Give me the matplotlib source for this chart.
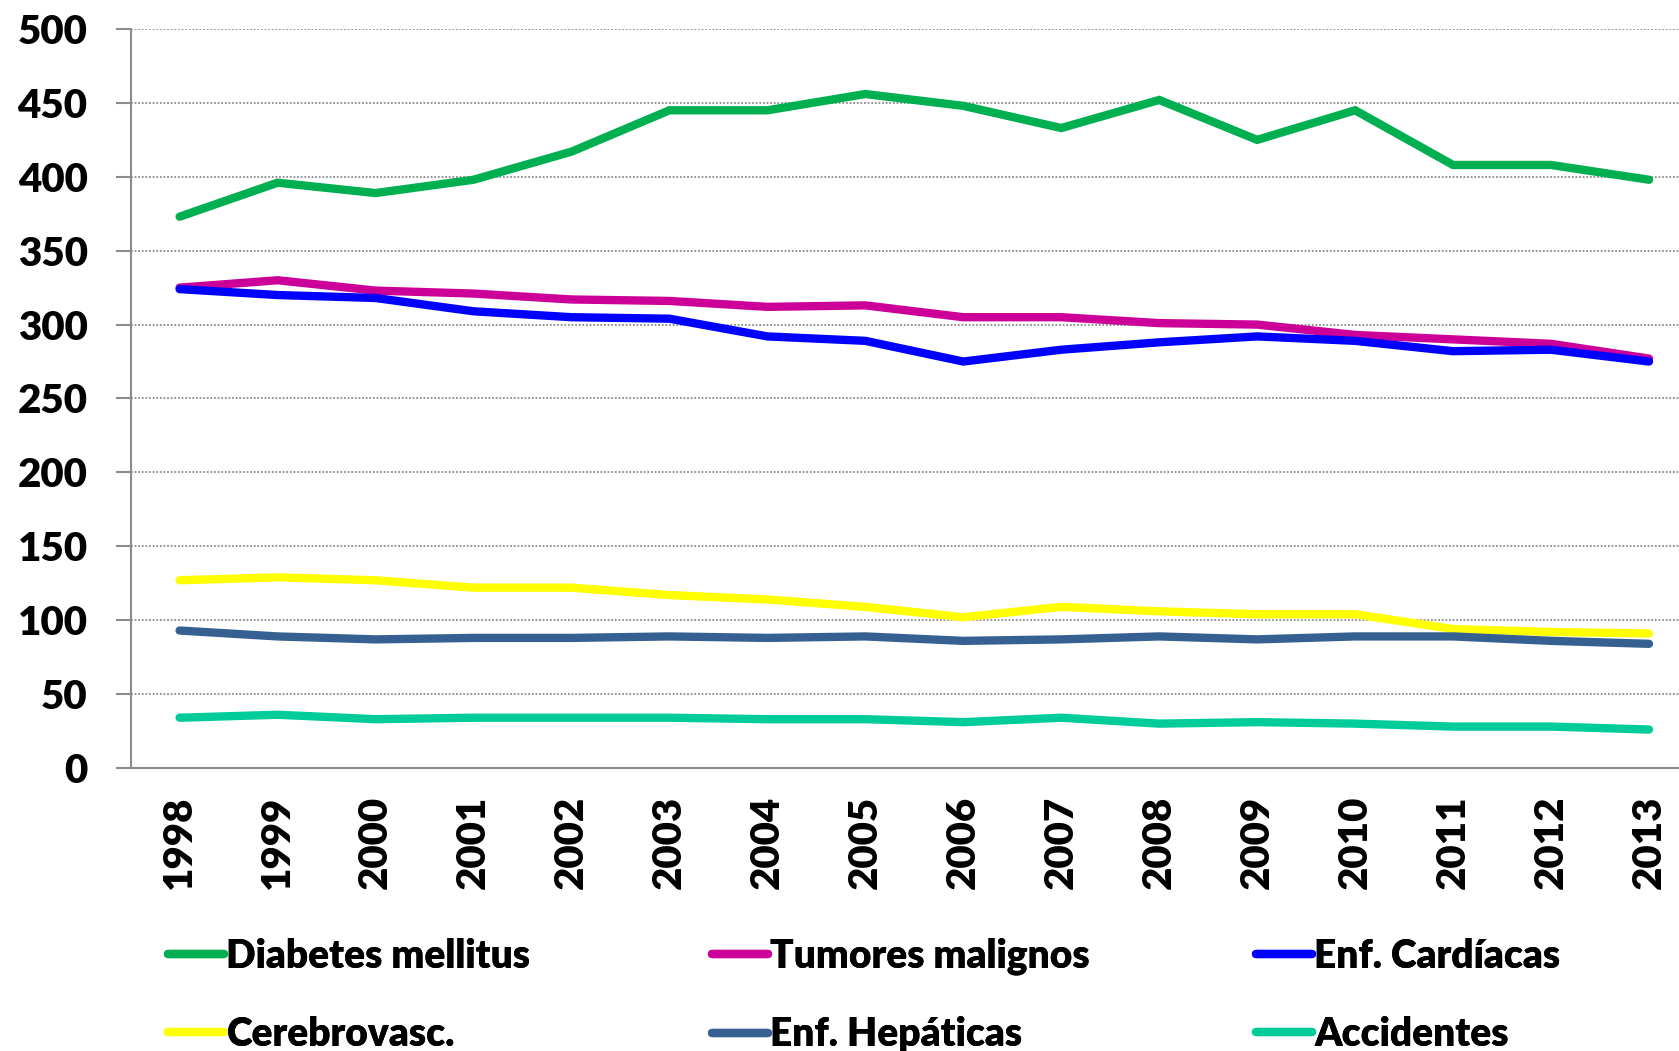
import matplotlib.pyplot as plt
import numpy as np

plt.rcParams['font.family'] = ['Lato', 'DejaVu Sans']
plt.rcParams['font.weight'] = 'heavy'

# Data
years = ['1998', '1999', '2000', '2001', '2002', '2003', '2004', '2005',
         '2006', '2007', '2008', '2009', '2010', '2011', '2012', '2013']
diabetes = [373, 396, 389, 398, 417, 445, 445, 456, 448, 433, 452, 425, 445, 408, 408, 398]
tumores = [325, 330, 323, 321, 317, 316, 312, 313, 305, 305, 301, 300, 293, 290, 287, 277]
cardiacas = [324, 320, 318, 309, 305, 304, 292, 289, 275, 283, 288, 292, 289, 282, 283, 275]
cerebro = [127, 129, 127, 122, 122, 117, 114, 109, 102, 109, 106, 104, 104, 94, 92, 91]
hepaticas = [93, 89, 87, 88, 88, 89, 88, 89, 86, 87, 89, 87, 89, 89, 86, 84]
accidentes = [34, 36, 33, 34, 34, 34, 33, 33, 31, 34, 30, 31, 30, 28, 28, 26]

series = [
    ('Diabetes mellitus', diabetes, '#00B050'),
    ('Tumores malignos', tumores, '#CC0099'),
    ('Enf. Cardíacas', cardiacas, '#0000FF'),
    ('Cerebrovasc.', cerebro, '#FFFF00'),
    ('Enf. Hepáticas', hepaticas, '#376092'),
    ('Accidentes', accidentes, '#00CC99'),
]

fig = plt.figure(figsize=(16.79, 10.51), dpi=100)
ax = fig.add_axes([0.0778, 0.2693, 0.9335, 0.7031])

x = np.arange(len(years))
lines = {}
for name, vals, color in series:
    ln, = ax.plot(x, vals, color=color, linewidth=6, solid_capstyle='round',
                  solid_joinstyle='miter', label=name, zorder=3)
    lines[name] = ln

ax.set_xlim(-0.5, len(years) - 0.5)
ax.set_ylim(0, 500)
ax.set_yticks(np.arange(0, 501, 50))
ax.set_xticks(x)
ax.set_xticklabels(years, rotation=90)

ax.grid(axis='y', color='#8c8c8c', linestyle=(0, (1, 1)), linewidth=1.3, zorder=1)
ax.set_axisbelow(True)
for s in ['top', 'right']:
    ax.spines[s].set_visible(False)
for s in ['left', 'bottom']:
    ax.spines[s].set_color('#8c8c8c')
    ax.spines[s].set_linewidth(1.5)

ax.tick_params(axis='y', length=11, width=1.5, color='#8c8c8c', pad=20,
               labelsize=29)
ax.tick_params(axis='x', length=0, pad=20, labelsize=29)
for lbl in ax.get_xticklabels() + ax.get_yticklabels():
    lbl.set_fontweight('heavy')

# Legend in three columns of two rows
columns = [('Diabetes mellitus', 'Cerebrovasc.'),
           ('Tumores malignos', 'Enf. Hepáticas'),
           ('Enf. Cardíacas', 'Accidentes')]
col_x = [0.1001, 0.4241, 0.7481]
for names, cx in zip(columns, col_x):
    leg = fig.legend([lines[n] for n in names], names, loc='center left',
                     bbox_to_anchor=(cx, 0.0528), frameon=False, borderpad=0,
                     borderaxespad=0, handlelength=1.45, handletextpad=0.05,
                     labelspacing=1.05, prop={'size': 28, 'weight': 'heavy'})
    fig.add_artist(leg)

fig.savefig('out.png', dpi=100)
